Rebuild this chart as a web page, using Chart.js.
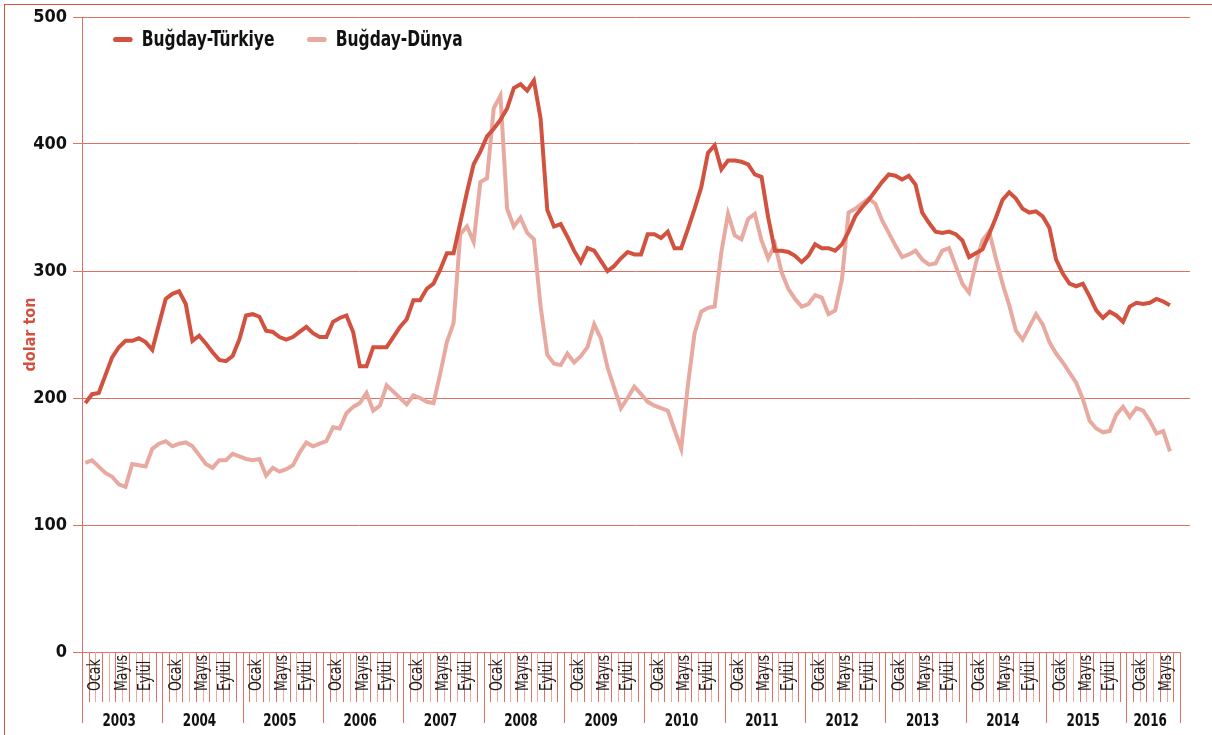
<!DOCTYPE html>
<html>
<head>
<meta charset="utf-8">
<script src="https://cdn.jsdelivr.net/npm/chart.js@4.4.0/dist/chart.umd.min.js"></script>
<style>
  html, body { margin: 0; padding: 0; background: #fff; }
  #wrap { position: relative; width: 1212px; height: 735px; overflow: hidden; }
  #frame { position: absolute; left: 4px; top: 4px; right: -2px; bottom: -2px;
           border-top: 1px solid #dc5244; border-left: 1px solid #dc5244; pointer-events: none; }
  .item { position: absolute; top: 27px; height: 26px; white-space: nowrap;
          font: bold 21px 'Liberation Sans Narrow', 'DejaVu Sans Condensed', sans-serif; color: #111;
          transform: scaleX(0.82); transform-origin: 0 50%; }
  .item span.sw { display: inline-block; width: 24px; height: 5px; border-radius: 3px;
                  vertical-align: middle; margin-right: 11px; position: relative; top: -1px; }
</style>
</head>
<body>
<div id="wrap">
  <canvas id="chart" width="1212" height="735"></canvas>
  <div id="legend"></div>
  <div id="frame"></div>
</div>
<script>
// aylar: Ocak 2003 - Ağustos 2016
const years = [2003, 2004, 2005, 2006, 2007, 2008, 2009, 2010, 2011, 2012, 2013, 2014, 2015, 2016];
const monthCount = 164;
const monthLabels = ["Ocak", "Mayıs", "Eylül"];

// dolar/ton, aylık
const turkiye = [
  196, 203, 204, 218, 232, 240, 245, 245, 247, 244, 238, 258,
  278, 282, 284, 274, 245, 249, 243, 236, 230, 229, 233, 246,
  265, 266, 264, 253, 252, 248, 246, 248, 252, 256, 251, 248,
  248, 260, 263, 265, 252, 225, 225, 240, 240, 240, 248, 256,
  262, 277, 277, 286, 290, 301, 314, 314, 338, 362, 384, 394,
  406, 412, 419, 428, 444, 447, 442, 450, 420, 348, 335, 337,
  327, 316, 307, 318, 316, 308, 300, 304, 310, 315, 313, 313,
  329, 329, 326, 331, 318, 318, 333, 349, 366, 393, 399, 380,
  387, 387, 386, 384, 376, 374, 342, 316, 316, 315, 312, 307,
  312, 321, 318, 318, 316, 321, 331, 343, 350, 356, 363, 370,
  376, 375, 372, 375, 368, 346, 338, 331, 330, 331, 329, 324,
  311, 314, 317, 329, 342, 356, 362, 357, 349, 346, 347, 343,
  334, 309, 298, 290, 288, 290, 280, 269, 263, 268, 265, 260,
  272, 275, 274, 275, 278, 276, 273
];
const dunya = [
  149, 151, 146, 141, 138, 132, 130, 148, 147, 146, 160, 164,
  166, 162, 164, 165, 162, 155, 148, 145, 151, 151, 156, 154,
  152, 151, 152, 139, 145, 142, 144, 147, 157, 165, 162, 164,
  166, 177, 176, 188, 193, 196, 204, 190, 194, 210, 205, 200,
  195, 202, 200, 197, 196, 219, 244, 259, 329, 335, 323, 370,
  373, 428, 438, 349, 335, 342, 330, 325, 272, 234, 227, 226,
  235, 228, 233, 240, 258, 247, 224, 208, 192, 200, 209, 203,
  197, 194, 192, 190, 175, 160, 210, 251, 268, 271, 272, 315,
  345, 328, 325, 341, 345, 324, 310, 321, 299, 286, 278, 272,
  274, 281, 279, 266, 269, 293, 346, 349, 353, 357, 353, 340,
  330, 320, 311, 313, 316, 309, 305, 306, 316, 318, 304, 290,
  283, 306, 324, 331, 310, 290, 273, 253, 246, 256, 266, 258,
  244, 235, 228, 220, 212, 199, 182, 176, 173, 174, 187, 193,
  185, 192, 190, 182, 172, 174, 158
];

const FONT = "'Liberation Sans Narrow', 'DejaVu Sans Condensed', sans-serif";
const RED = "rgb(210, 82, 64)";
const PINK = "rgb(232, 170, 160)";
const GRID = "rgb(224, 112, 100)";
const GRID_LIGHT = "rgb(238, 170, 162)";

const monthAxis = {
  id: "monthAxis",
  afterDraw(chart) {
    const xs = chart.scales.x;
    const y0 = chart.scales.y.getPixelForValue(0);
    const c = chart.ctx;
    const px = (v) => Math.round(xs.getPixelForValue(v)) + 0.5;
    c.save();
    c.lineWidth = 1;

    // sıfır çizgisi
    c.strokeStyle = GRID;
    c.beginPath();
    c.moveTo(px(-0.5), y0 + 0.5);
    c.lineTo(px(monthCount - 0.5), y0 + 0.5);
    c.stroke();

    // ay ve yıl çizgileri
    for (let b = 1; b <= monthCount; b++) {
      const isYear = b % 12 === 0 || b === monthCount;
      c.strokeStyle = isYear ? GRID : (b % 2 ? GRID : GRID_LIGHT);
      c.beginPath();
      c.moveTo(px(b - 0.5), y0);
      c.lineTo(px(b - 0.5), y0 + (isYear ? 71 : 50));
      c.stroke();
    }
    c.strokeStyle = GRID;
    c.beginPath();
    c.moveTo(px(-0.5), y0);
    c.lineTo(px(-0.5), y0 + 71);
    c.stroke();

    // ay etiketleri
    const labelPos = [2.1, 6.0, 9.5];
    c.fillStyle = "#1a1a1a";
    c.font = "17px " + FONT;
    c.textAlign = "left";
    c.textBaseline = "middle";
    years.forEach((yr, k) => {
      const start = k * 12 - 0.5;
      monthLabels.forEach((lab, j) => {
        const v = start + labelPos[j];
        if (v + 0.8 > monthCount - 0.5) return;
        c.save();
        c.translate(xs.getPixelForValue(v), y0 + 39);
        c.rotate(-Math.PI / 2);
        c.scale(0.82, 1);
        c.fillText(lab, 0, 0);
        c.restore();
      });
    });

    // yıl etiketleri
    c.font = "bold 18px " + FONT;
    c.textAlign = "center";
    c.textBaseline = "alphabetic";
    c.fillStyle = "#111";
    years.forEach((yr, k) => {
      const a = k * 12 - 0.5;
      const b = Math.min(k * 12 + 11.5, monthCount - 0.5);
      c.save();
      c.translate(xs.getPixelForValue((a + b) / 2) - 3, y0 + 74);
      c.scale(0.74, 1);
      c.fillText(String(yr), 0, 0);
      c.restore();
    });
    c.restore();
  }
};

const chart = new Chart(document.getElementById("chart"), {
  type: "line",
  data: {
    datasets: [
      {
        label: "Buğday-Türkiye",
        data: turkiye.map((v, i) => ({ x: i, y: v })),
        borderColor: RED,
        backgroundColor: RED,
        borderWidth: 4,
        pointRadius: 0,
        tension: 0,
      },
      {
        label: "Buğday-Dünya",
        data: dunya.map((v, i) => ({ x: i, y: v })),
        borderColor: PINK,
        backgroundColor: PINK,
        borderWidth: 4,
        pointRadius: 0,
        tension: 0,
      },
    ],
  },
  options: {
    responsive: false,
    animation: false,
    layout: { padding: { top: 17, right: 22, bottom: 83, left: 0 } },
    plugins: {
      legend: { display: false },
      tooltip: { enabled: false },
    },
    scales: {
      x: { type: "linear", min: -0.5, max: 165, display: false },
      y: {
        min: 0,
        max: 500,
        afterFit: (s) => { s.width = 82; },
        ticks: {
          stepSize: 100,
          color: "#111",
          padding: 6,
          font: { family: FONT, size: 18, weight: "bold" },
        },
        grid: {
          color: (ctx) => (ctx.tick && ctx.tick.value === 0 ? "rgba(0,0,0,0)" : GRID),
          tickColor: GRID,
          tickLength: 9,
          lineWidth: 1,
        },
        border: { color: GRID },
        title: {
          display: true,
          text: "dolar ton",
          color: RED,
          font: { family: FONT, size: 16, weight: "bold" },
          padding: { top: 21, bottom: 0 },
        },
      },
    },
  },
  plugins: [monthAxis],
});

// lejant
const legendLeft = [113, 307];
const legend = document.getElementById("legend");
chart.data.datasets.forEach((ds, i) => {
  const item = document.createElement("div");
  item.className = "item";
  item.style.left = legendLeft[i] + "px";
  const sw = document.createElement("span");
  sw.className = "sw";
  sw.style.background = ds.borderColor;
  item.appendChild(sw);
  item.appendChild(document.createTextNode(ds.label));
  legend.appendChild(item);
});
</script>
</body>
</html>
